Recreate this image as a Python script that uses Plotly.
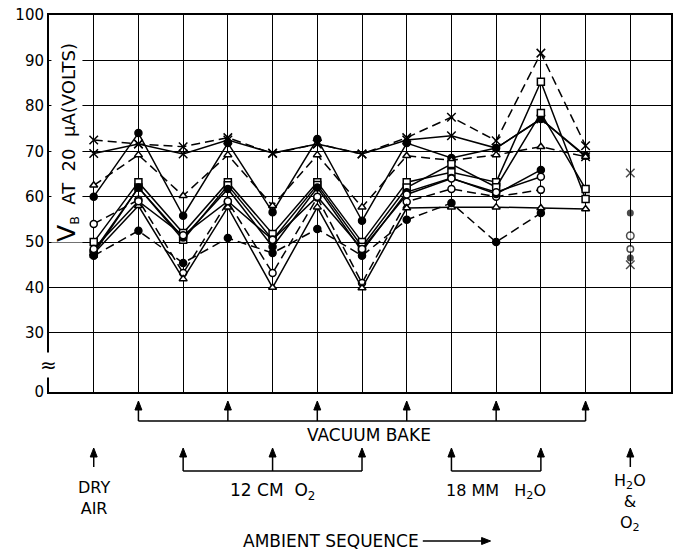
import plotly.graph_objects as go

# ---------------- data ----------------
steps = [1, 2, 3, 4, 5, 6, 7, 8, 9, 10, 11, 12]

x_dash     = [72.5, 71.6, 71.0, 73.0, 69.5, 71.6, 69.4, 73.0, 77.5, 72.3, 91.6, 71.2]
x_solid    = [69.5, 71.6, 69.4, 72.5, 69.6, 71.6, 69.4, 72.5, 73.4, 70.7, 77.1, 68.8]
dot_top    = [60.0, 74.0, 55.8, 71.8, 56.6, 72.7, 54.7, 71.8, 68.5, 70.7, 77.1, 69.0]
tri_upper  = [62.5, 69.2, 60.2, 69.2, 58.0, 69.2, 57.7, 69.0, 68.0, 69.2, 71.0, 68.8]
sq_upper   = [50.0, 63.2, 52.0, 63.2, 51.8, 63.2, 50.0, 63.2, 65.4, 63.2, 85.3, 59.5]
sq_lower   = [47.5, 62.0, 50.5, 62.5, 50.5, 62.6, 49.0, 62.0, 67.2, 62.1, 78.4, 61.7]
ring_dash  = [54.0, 59.3, 43.2, 58.9, 43.2, 59.8, 41.0, 58.9, 61.7, 60.0, 61.5, None]
tri_lower  = [47.5, 58.0, 41.9, 57.7, 40.0, 57.7, 39.9, 57.5, 57.7, 57.7, 57.5, 57.3]
dot_low    = [47.0, 52.5, 45.4, 50.9, 47.6, 52.9, 47.0, 54.9, 58.6, 50.0, 56.4, None]
dot_mid    = [48.0, 62.0, 51.0, 61.7, 49.0, 62.0, 48.0, 61.0, 64.1, 60.6, 65.9, None]
ring_solid = [48.5, 59.0, 51.5, 59.0, 50.5, 60.0, 48.5, 60.5, 64.0, 61.0, 64.4, None]

last_step = [13, 13, 13, 13, 13, 13]
last_vals = [65.2, 56.4, 51.4, 48.5, 46.5, 45.0]

ytick_vals = [17.05, 30, 40, 50, 60, 70, 80, 90, 100]
ytick_text = ["0", "30", "40", "50", "60", "70", "80", "90", "100"]

vacuum_cols = [2, 4, 6, 8, 10, 12]
oxygen_cols = [3, 5, 7]
water_cols = [9, 11]
dry_col = 1
mix_col = 13

# ---------------- styling ----------------
FONT = "DejaVu Sans"
series = [
    (x_dash, "x-thin", "dash", False),
    (x_solid, "x-thin", "solid", False),
    (dot_top, "circle", "solid", True),
    (tri_upper, "triangle-up", "dash", False),
    (sq_upper, "square", "solid", False),
    (sq_lower, "square", "solid", False),
    (ring_dash, "circle", "dash", False),
    (tri_lower, "triangle-up", "solid", False),
    (dot_low, "circle", "dash", True),
    (dot_mid, "circle", "solid", True),
    (ring_solid, "circle", "solid", False),
]

fig = go.Figure()
for vals, sym, dash, is_filled in series:
    is_x = sym.startswith("x")
    fill = "black" if (is_filled or is_x) else "white"
    fig.add_trace(go.Scatter(
        x=steps, y=vals, mode="lines+markers",
        line=dict(color="black", width=1.5, dash="9px,5px" if dash == "dash" else "solid"),
        marker=dict(symbol=sym, size=8.5 if is_x else 7, color=fill,
                    line=dict(color="black", width=1.5)),
        connectgaps=False, showlegend=False, hoverinfo="skip"))

fig.add_trace(go.Scatter(
    x=last_step, y=last_vals, mode="markers",
    marker=dict(symbol=["x-thin", "circle", "circle", "circle", "circle", "x-thin"],
                size=[8.5, 5.5, 7.5, 6.5, 5.5, 8.5],
                color=["black", "black", "white", "white", "black", "black"],
                line=dict(color="black", width=1.5)),
    showlegend=False, hoverinfo="skip"))

# ---------------- layout ----------------
L, R, T, B = 49, 4, 15, 159
W, H = 677, 551
PH = H - T - B
PW = W - L - R
XMAX = 13.91


def py(y):
    return (H - B - y) / PH


def px(x):
    return (x - L) / PW


fig.update_layout(
    width=W, height=H, margin=dict(l=L, r=R, t=T, b=B),
    paper_bgcolor="white", plot_bgcolor="white",
    font=dict(family=FONT, color="black", size=16),
    xaxis=dict(range=[0, XMAX], tickvals=list(range(1, 14)), showticklabels=False,
               ticks="", showgrid=True, gridcolor="black", gridwidth=1.2,
               showline=True, linecolor="black", linewidth=2, mirror=True, zeroline=False),
    yaxis=dict(range=[17, 100], tickvals=ytick_vals, ticktext=ytick_text,
               ticks="", showgrid=True, gridcolor="black", gridwidth=1.2,
               showline=True, linecolor="black", linewidth=2, mirror=True, zeroline=False,
               tickfont=dict(size=15, family=FONT)),
)

ann = []
shapes = []


def text_at(xref, x, y, text, size=16, **kw):
    ann.append(dict(xref=xref, yref="paper", x=x, y=py(y), showarrow=False,
                    xanchor="center", yanchor="middle", text=text,
                    font=dict(size=size, family=FONT), **kw))


# y-axis title inside plot
text_at("paper", px(67), 142,
        '<span style="font-size:25px">V</span><sub>B</sub>  AT  20  μA(VOLTS)',
        size=18, textangle=-90, bgcolor="white", borderpad=0)
# axis break mark
text_at("paper", px(48), 365, "≈", size=20, bgcolor="white", borderpad=0)

UNIT = PW / XMAX  # pixels per column


def up_arrow(col, tip, tail):
    shapes.append(dict(type="line", xref="x", yref="paper", x0=col, x1=col,
                       y0=py(tip + 6), y1=py(tail), line=dict(color="black", width=1.5)))
    hw = 3.5 / UNIT
    shapes.append(dict(type="path", xref="x", yref="paper",
                       path=f"M {col - hw},{py(tip + 9)} L {col + hw},{py(tip + 9)} L {col},{py(tip)} Z",
                       fillcolor="black", line=dict(color="black", width=1)))


def right_arrow(x0p, x1p, y):
    shapes.append(dict(type="line", xref="paper", yref="paper", x0=px(x0p), x1=px(x1p - 6),
                       y0=py(y), y1=py(y), line=dict(color="black", width=1.5)))
    shapes.append(dict(type="path", xref="paper", yref="paper",
                       path=f"M {px(x1p - 9)},{py(y - 3.5)} L {px(x1p - 9)},{py(y + 3.5)} L {px(x1p)},{py(y)} Z",
                       fillcolor="black", line=dict(color="black", width=1)))


def bracket(c0, c1, y):
    shapes.append(dict(type="line", xref="x", yref="paper", x0=c0, x1=c1,
                       y0=py(y), y1=py(y), line=dict(color="black", width=1.5)))


# vacuum bake row
for c in vacuum_cols:
    up_arrow(c, 401, 421)
bracket(vacuum_cols[0], vacuum_cols[-1], 421)
text_at("x", 7.15, 435, "VACUUM BAKE", size=17)

# second row
for c in oxygen_cols:
    up_arrow(c, 448, 471)
bracket(oxygen_cols[0], oxygen_cols[-1], 471)
for c in water_cols:
    up_arrow(c, 448, 471)
bracket(water_cols[0], water_cols[-1], 471)
up_arrow(dry_col, 448, 467)
up_arrow(mix_col, 448, 467)

text_at("x", dry_col, 498, "DRY<br>AIR")
text_at("x", 5, 491, "12 CM  O<sub>2</sub>", size=17)
text_at("x", 10, 491, "18 MM   H<sub>2</sub>O", size=16)
text_at("x", mix_col, 503, "H<sub>2</sub>O<br>&amp;<br>O<sub>2</sub>")

text_at("paper", px(332), 541, "AMBIENT SEQUENCE", size=17)
right_arrow(424, 492, 541)

fig.update_layout(annotations=ann, shapes=shapes)
fig.write_html("out.html")
